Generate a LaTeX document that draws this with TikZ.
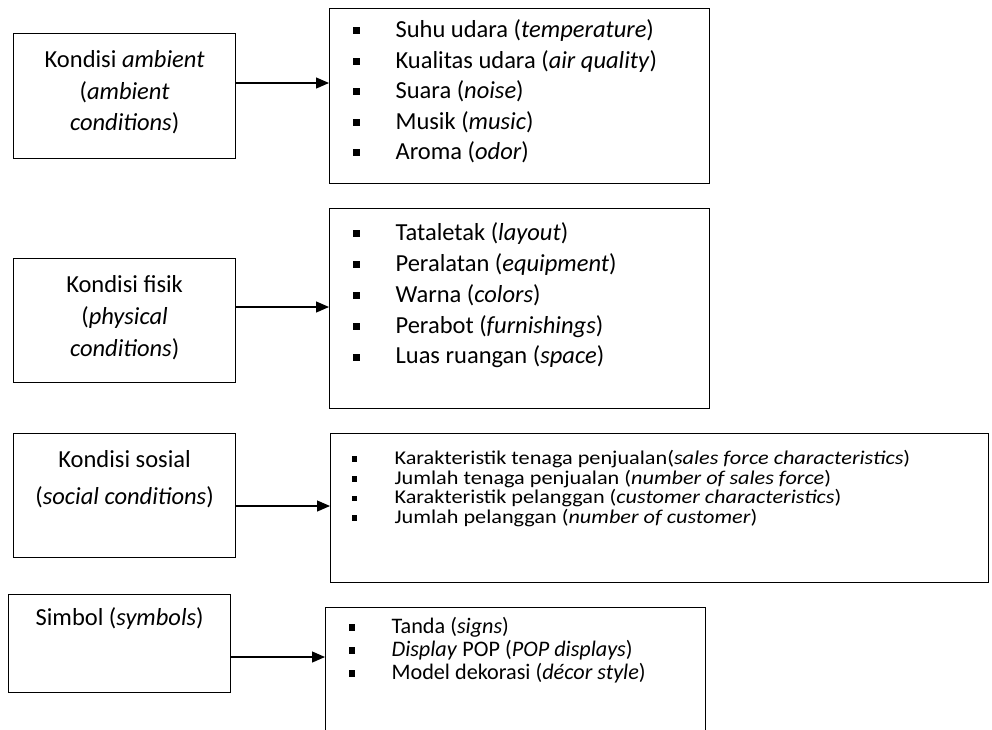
\documentclass[tikz,border=0pt]{standalone}
\usepackage{fontspec}
\setmainfont{Carlito}
\newfontfamily\widefont[FakeStretch=1.14]{Carlito}
\usetikzlibrary{arrows.meta}

\newcommand{\sqb}{\rule[0.13em]{0.29em}{0.29em}}
\newcommand{\itm}{\hspace*{23pt}\makebox[43pt][l]{\sqb}}
\newcommand{\boxtext}[5]{\parbox[c][#1][t]{#2}{\lineskiplimit=-100pt\fontsize{#3}{#4}\selectfont#5}}

\begin{document}
\begin{tikzpicture}[x=1pt,y=-1pt,
  box/.style={draw, line width=1.2pt, inner sep=0pt, anchor=north west},
  arr/.style={line width=1.2pt, -{Triangle[length=13pt,width=11pt]}}]
  \useasboundingbox (0,0) rectangle (992,729);
  \clip (0,0) rectangle (992,729);

  % kondisi
  \node[box] (amb) at (13,33) {\boxtext{125pt}{222pt}{24.5}{31.5}{\centering\rule{0pt}{34pt}Kondisi \textit{ambient}\\ (\textit{ambient}\\ \textit{conditions})}};
  \node[box] (fis) at (13,258) {\boxtext{124pt}{222pt}{24.5}{32}{\centering\rule{0pt}{34pt}Kondisi fisik\\ (\textit{physical}\\ \textit{conditions})}};
  \node[box] (sos) at (13,433) {\boxtext{124pt}{222pt}{24.5}{37}{\centering\rule{0pt}{34pt}Kondisi sosial\\ (\textit{social conditions})}};
  \node[box] (sim) at (8,594) {\boxtext{98pt}{222pt}{24.5}{30}{\centering\rule{0pt}{31pt}Simbol (\textit{symbols})}};

  % daftar
  \node[box] (ambList) at (329,8) {\boxtext{175pt}{380pt}{24.5}{30.5}{\raggedright\rule{0pt}{29pt}%
    \itm Suhu udara (\textit{temperature})\\
    \itm Kualitas udara (\textit{air quality})\\
    \itm Suara (\textit{noise})\\
    \itm Musik (\textit{music})\\
    \itm Aroma (\textit{odor})}};
  \node[box] (fisList) at (329,208) {\boxtext{200pt}{380pt}{24.5}{30.8}{\raggedright\rule{0pt}{32pt}%
    \itm Tataletak (\textit{layout})\\
    \itm Peralatan (\textit{equipment})\\
    \itm Warna (\textit{colors})\\
    \itm Perabot (\textit{furnishings})\\
    \itm Luas ruangan (\textit{space})}};
  \node[box] (sosList) at (330,433) {\boxtext{149pt}{658pt}{19.5}{19.6}{\widefont\raggedright\rule{0pt}{31pt}%
    \hspace*{-2pt}\itm Karakteristik tenaga penjualan(\textit{sales force characteristics})\\
    \hspace*{-2pt}\itm Jumlah tenaga penjualan (\textit{number of sales force})\\
    \hspace*{-2pt}\itm Karakteristik pelanggan (\textit{customer characteristics})\\
    \hspace*{-2pt}\itm Jumlah pelanggan (\textit{number of customer})}};
  \node[box] (simList) at (325,607) {\boxtext{150pt}{380pt}{22.2}{23}{\raggedright\rule{0pt}{26pt}%
    \itm Tanda (\textit{signs})\\
    \itm \textit{Display} POP (\textit{POP displays})\\
    \itm Model dekorasi (\textit{décor style})}};

  \coordinate (a1) at (0,83);
  \coordinate (a2) at (0,307);
  \coordinate (a3) at (0,506);
  \coordinate (a4) at (0,657);
  \draw[arr] (amb.east |- a1) -- (ambList.west |- a1);
  \draw[arr] (fis.east |- a2) -- (fisList.west |- a2);
  \draw[arr] (sos.east |- a3) -- (sosList.west |- a3);
  \draw[arr] (sim.east |- a4) -- (simList.west |- a4);
\end{tikzpicture}
\end{document}
